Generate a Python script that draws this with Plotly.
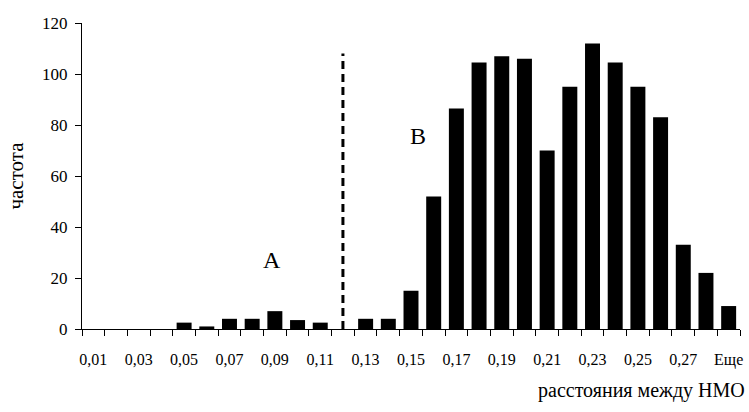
import plotly.graph_objects as go

# Histogram bins (distance between НМО) and their frequencies
categories = ["0,01", "0,02", "0,03", "0,04", "0,05", "0,06", "0,07", "0,08",
              "0,09", "0,10", "0,11", "0,12", "0,13", "0,14", "0,15", "0,16",
              "0,17", "0,18", "0,19", "0,20", "0,21", "0,22", "0,23", "0,24",
              "0,25", "0,26", "0,27", "0,28", "Еще"]
frequency = [0, 0, 0, 0, 2.5, 1, 4, 4,
             7, 3.5, 2.5, 0, 4, 4, 15, 52,
             86.5, 104.5, 107, 106, 70, 95, 112, 104.5,
             95, 83, 33, 22, 9]

# Only every other bin is labelled on the axis
tick_text = [c if i % 2 == 0 else "" for i, c in enumerate(categories)]

# Divider between groups A and B
divider_bin = "0,12"
divider_height = 108

serif = "Liberation Serif"

fig = go.Figure()
fig.add_trace(go.Bar(
    x=categories,
    y=frequency,
    marker=dict(color="black", line=dict(width=0)),
    width=0.66,
))

fig.add_shape(type="line", xref="x", yref="y",
              x0=divider_bin, x1=divider_bin, y0=0, y1=divider_height,
              line=dict(color="black", width=3, dash="8px,5px"))

fig.add_annotation(x="0,09", y=27, text="A", showarrow=False,
                   xshift=-3, font=dict(family=serif, size=24, color="black"))
fig.add_annotation(x="0,16", y=75.5, text="B", showarrow=False,
                   xshift=-16, font=dict(family=serif, size=24, color="black"))
fig.add_annotation(xref="paper", yref="paper", x=1.011, y=-0.2,
                   xanchor="right", yanchor="middle", showarrow=False,
                   text="расстояния между НМО",
                   font=dict(family=serif, size=20, color="black"))

fig.update_layout(
    width=749, height=412,
    margin=dict(l=82, r=9, t=23, b=83),
    paper_bgcolor="white", plot_bgcolor="white",
    showlegend=False,
    font=dict(family=serif, color="black"),
    bargap=0.34,
)

fig.update_xaxes(
    type="category", automargin=False,
    tickmode="array", tickvals=categories, ticktext=tick_text,
    tickangle=0,
    tickson="boundaries", ticks="outside", ticklen=6, tickcolor="black",
    showline=True, linecolor="black", linewidth=1,
    showgrid=False, zeroline=False,
    tickfont=dict(family=serif, size=16, color="black"),
    ticklabelstandoff=16,
    range=[-0.5, 28.5],
)

fig.update_yaxes(
    range=[0, 120], tickmode="array", tickvals=[0, 20, 40, 60, 80, 100, 120],
    automargin=False,
    ticks="outside", ticklen=6, tickcolor="black",
    showline=True, linecolor="black", linewidth=1,
    showgrid=False, zeroline=False,
    tickfont=dict(family=serif, size=17, color="black"),
    ticklabelstandoff=4,
    title=dict(text="частота", font=dict(family=serif, size=21, color="black"),
               standoff=12),
)

fig.write_html("out.html")
